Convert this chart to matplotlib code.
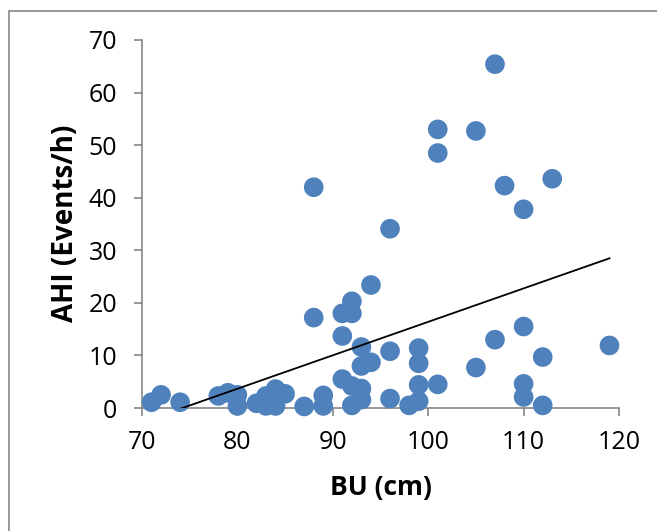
import matplotlib
matplotlib.use('Agg')
import matplotlib.pyplot as plt
import numpy as np
from matplotlib.patches import Rectangle

plt.rcParams['font.family'] = ['Open Sans', 'DejaVu Sans']

# waist circumference (cm) vs apnea-hypopnea index
bu = [71, 72, 74, 78, 79, 80, 80, 82, 83, 83, 84, 84, 84, 85, 87, 89, 89,
      88, 88, 91, 92, 92, 91, 91, 92, 92, 93, 93, 94, 93, 93, 94,
      96, 96, 96, 98, 99, 99, 99, 99, 101, 101, 101, 105, 105,
      107, 107, 108, 110, 110, 110, 110, 112, 112, 113, 119]
ahi = [1.1, 2.5, 1.1, 2.3, 2.9, 2.5, 0.4, 0.9, 2.3, 0.4, 3.6, 0.4, 2.2, 2.7, 0.3, 2.4, 0.4,
       42.0, 17.2, 18.0, 20.3, 18.0, 13.7, 5.5, 4.2, 0.5, 11.6, 8.0, 8.7, 3.7, 1.6, 23.4,
       34.1, 10.8, 1.8, 0.5, 11.4, 8.5, 4.4, 1.3, 53.0, 48.5, 4.5, 52.7, 7.7,
       65.4, 13.0, 42.3, 37.8, 15.5, 4.6, 2.1, 9.7, 0.5, 43.6, 11.9]

x_ticks = [70, 80, 90, 100, 110, 120]
y_ticks = [0, 10, 20, 30, 40, 50, 60, 70]

fig = plt.figure(figsize=(6.57, 5.31), dpi=100)
ax = fig.add_axes([0.2161, 0.2316, 0.7261, 0.6931])

ax.scatter(bu, ahi, s=200, color='#4F81BD', edgecolors='none', zorder=3, clip_on=False)

# linear trend line over the data range
slope, icpt = np.polyfit(bu, ahi, 1)
xs = np.array([min(bu), max(bu)])
ax.plot(xs, slope * xs + icpt, color='black', lw=1.3, zorder=4)

ax.set_xlim(70, 120)
ax.set_ylim(0, 70)
ax.set_xticks(x_ticks)
ax.set_yticks(y_ticks)
ax.tick_params(labelsize=18, length=6, width=1.2, color='#868686')
ax.tick_params(axis='x', pad=10)
ax.tick_params(axis='y', pad=12)
for side in ['top', 'right']:
    ax.spines[side].set_visible(False)
for side in ['left', 'bottom']:
    ax.spines[side].set_color('#868686')
    ax.spines[side].set_linewidth(1.2)

ax.set_xlabel('BU (cm)', fontsize=19, fontweight='bold')
ax.set_ylabel('AHI (Events/h)', fontsize=20, fontweight='bold')
ax.xaxis.set_label_coords(0.501, -0.217)
ax.yaxis.set_label_coords(-0.161, 0.503)
ax.xaxis.label.set_va('center')
ax.yaxis.label.set_va('center')

fig.patches.append(Rectangle((9 / 657, -0.1), 1.2, 1 - 11 / 531 + 0.1,
                             transform=fig.transFigure, fill=False,
                             edgecolor='#888888', lw=1.2))

fig.savefig('out.png', dpi=100)
